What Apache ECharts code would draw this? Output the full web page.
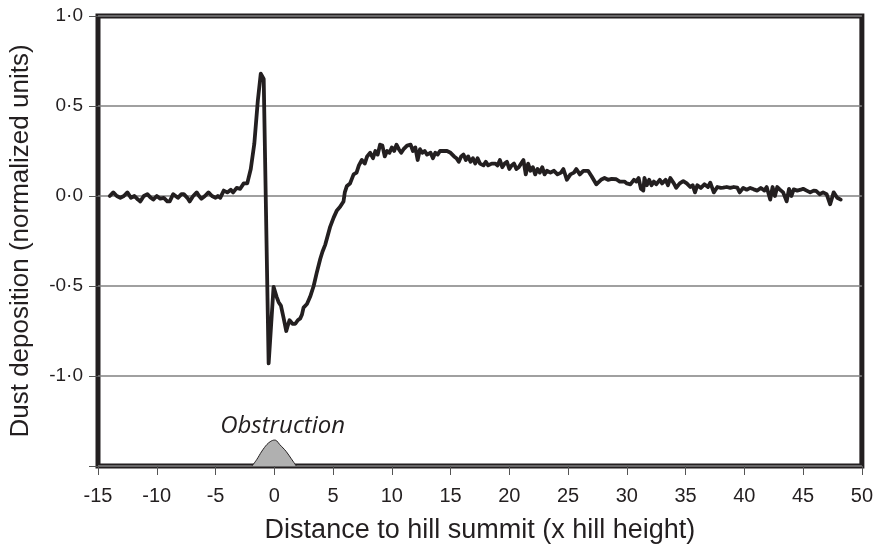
<!DOCTYPE html>
<html>
<head>
<meta charset="utf-8">
<style>html,body{margin:0;padding:0;background:#fff;}#c{width:876px;height:553px;}</style>
<script src="https://cdn.jsdelivr.net/npm/echarts@6/dist/echarts.min.js"></script>
</head>
<body>
<div id="c"></div>
<script>
// Distance to hill summit (x hill height)
const distance = [
-14.0,-13.7,-13.4,-13.1,-12.8,-12.5,-12.2,-11.9,-11.6,-11.4,-11.1,-10.8,-10.5,-10.3,-10.0,-9.7,-9.4,-9.1,-8.9,-8.6,
-8.4,-8.2,-7.9,-7.7,-7.4,-7.2,-6.9,-6.6,-6.4,-6.2,-5.9,-5.6,-5.3,-5.0,-4.8,-4.6,-4.3,-4.0,-3.7,-3.5,
-3.2,-2.9,-2.6,-2.3,-2.0,-1.7,-1.4,-1.15,-0.9,-0.48,-0.06,0.2,0.37,0.57,0.8,1.02,1.15,1.3,1.55,1.79,
2.0,2.21,2.35,2.49,2.78,3.05,3.35,3.6,3.91,4.1,4.34,4.55,4.76,5.05,5.33,5.6,5.89,6.0,6.18,6.45,
6.75,7.0,7.2,7.45,7.7,7.9,8.16,8.4,8.6,8.8,9.0,9.2,9.4,9.6,9.8,10.0,10.2,10.4,10.6,10.8,
11.0,11.3,11.6,11.8,12.0,12.2,12.4,12.6,12.8,13.0,13.3,13.5,13.7,13.9,14.1,14.4,14.7,15.0,15.3,15.5,
15.7,15.9,16.1,16.3,16.5,16.7,16.9,17.1,17.3,17.5,17.8,18.0,18.2,18.5,18.8,19.0,19.2,19.4,19.6,19.8,
20.0,20.2,20.4,20.6,20.8,21.0,21.2,21.4,21.6,21.8,22.0,22.2,22.4,22.6,22.8,23.0,23.2,23.5,23.8,24.1,
24.4,24.6,24.9,25.2,25.5,25.7,26.0,26.3,26.7,27.0,27.4,27.8,28.1,28.4,28.7,29.1,29.4,29.8,30.0,30.3,
30.6,30.8,31.0,31.2,31.4,31.5,31.7,31.9,32.1,32.3,32.5,32.8,33.0,33.3,33.5,33.7,34.0,34.2,34.5,34.8,
35.1,35.4,35.6,35.8,36.0,36.3,36.6,36.9,37.1,37.4,37.7,38.0,38.2,38.5,38.8,39.1,39.4,39.6,39.9,40.2,
40.5,40.8,41.1,41.4,41.7,41.9,42.2,42.4,42.6,42.8,43.0,43.3,43.6,43.8,44.0,44.2,44.5,44.8,45.0,45.3,
45.6,45.9,46.1,46.4,46.7,47.0,47.3,47.6,47.9,48.2
];
// Dust deposition (normalized units)
const deposition = [
0.00,0.02,0.00,-0.01,0.00,0.02,-0.01,0.00,-0.02,-0.03,0.00,0.01,-0.01,-0.02,0.00,-0.015,-0.01,-0.03,-0.03,0.01,
0.00,-0.01,0.01,0.01,-0.01,-0.03,0.00,0.02,0.00,-0.015,0.00,0.02,0.00,-0.01,0.00,-0.01,0.03,0.02,0.035,0.02,
0.045,0.04,0.07,0.07,0.15,0.29,0.53,0.68,0.65,-0.93,-0.505,-0.56,-0.59,-0.61,-0.68,-0.75,-0.72,-0.69,-0.71,-0.71,
-0.69,-0.68,-0.66,-0.62,-0.60,-0.56,-0.50,-0.43,-0.35,-0.31,-0.27,-0.22,-0.17,-0.12,-0.08,-0.06,-0.03,0.02,0.056,0.07,
0.12,0.13,0.17,0.20,0.18,0.22,0.24,0.21,0.25,0.23,0.285,0.28,0.22,0.25,0.24,0.27,0.25,0.285,0.26,0.24,
0.26,0.28,0.285,0.25,0.27,0.20,0.26,0.24,0.25,0.23,0.24,0.21,0.24,0.23,0.25,0.25,0.25,0.24,0.22,0.21,
0.19,0.22,0.23,0.20,0.22,0.19,0.21,0.18,0.21,0.18,0.17,0.19,0.17,0.18,0.18,0.17,0.20,0.16,0.18,0.19,
0.15,0.17,0.18,0.15,0.16,0.18,0.20,0.12,0.18,0.14,0.16,0.12,0.15,0.13,0.16,0.12,0.14,0.13,0.14,0.12,
0.13,0.15,0.09,0.12,0.13,0.15,0.12,0.14,0.14,0.11,0.065,0.09,0.10,0.09,0.095,0.093,0.08,0.08,0.07,0.065,
0.09,0.08,0.10,0.04,0.03,0.10,0.06,0.09,0.06,0.08,0.065,0.09,0.07,0.09,0.06,0.10,0.07,0.046,0.07,0.083,
0.07,0.05,0.06,0.02,0.06,0.045,0.065,0.05,0.074,0.02,0.05,0.045,0.046,0.05,0.045,0.05,0.046,0.02,0.045,0.035,
0.045,0.037,0.03,0.045,0.03,0.05,-0.02,0.05,0.0,0.05,0.037,0.02,-0.03,0.04,0.00,0.037,0.03,0.035,0.04,0.03,
0.02,0.03,0.028,0.01,0.02,0.01,-0.046,0.02,-0.01,-0.02
];
// Obstruction (hill) profile
const hillX = [-1.9,-1.5,-1.05,-0.62,-0.35,-0.15,0.03,0.2,0.45,0.75,1.02,1.45,1.87];
const hillY = [-1.5,-1.465,-1.417,-1.38,-1.365,-1.358,-1.356,-1.36,-1.38,-1.4,-1.42,-1.46,-1.5];
const xTicks = {min:-15, max:50, interval:5};
const yTicks = {min:-1.5, max:1.0, interval:0.5};
const xName = 'Distance to hill summit (x hill height)';
const yName = 'Dust deposition (normalized units)';
const hillLabel = 'Obstruction';

const ink = '#231f20';
const font = 'Liberation Sans, Arial, sans-serif';
const chart = echarts.init(document.getElementById('c'), null, {renderer:'canvas'});
chart.setOption({
  animation:false,
  backgroundColor:'#fff',
  grid:{left:98, right:14, top:16, bottom:87, show:true, borderColor:ink, borderWidth:5, backgroundColor:'transparent'},
  xAxis:{
    type:'value', min:xTicks.min, max:xTicks.max, interval:xTicks.interval,
    name:xName, nameLocation:'middle', nameGap:51,
    nameTextStyle:{fontFamily:font, fontSize:27, color:ink},
    axisLine:{show:false, onZero:false},
    axisTick:{show:true, length:9, lineStyle:{color:'#555', width:1}},
    axisLabel:{fontFamily:font, fontSize:20, color:ink, margin:20},
    splitLine:{show:false}
  },
  yAxis:{
    type:'value', min:yTicks.min, max:yTicks.max, interval:yTicks.interval,
    name:yName, nameLocation:'middle', nameGap:64,
    nameTextStyle:{fontFamily:font, fontSize:26, color:ink},
    axisLine:{show:false, onZero:false},
    axisTick:{show:true, length:9, lineStyle:{color:'#555', width:1}},
    axisLabel:{fontFamily:font, fontSize:19, color:ink, margin:15,
      formatter:function(v){ if (Math.abs(v - yTicks.min) < 1e-9) return ''; return v.toFixed(1).replace('.', '·'); }},
    splitLine:{show:true, lineStyle:{color:'#808080', width:1.5}}
  },
  series:[
    {
      type:'line', data:hillX.map((x,i)=>[x, hillY[i]]), smooth:0.4, symbol:'none',
      lineStyle:{color:ink, width:1}, areaStyle:{color:'#b0b0b0', opacity:1, origin:'start'},
      z:3,
      markPoint:{
        symbol:'circle', symbolSize:0,
        data:[{type:'max', valueDim:'y'}],
        label:{show:true, position:'top', distance:2, offset:[8,0], formatter:hillLabel,
          fontFamily:'Open Sans, Noto Sans, sans-serif', fontStyle:'italic', fontSize:24, color:ink}
      }
    },
    {
      type:'line', data:distance.map((x,i)=>[x, deposition[i]]), symbol:'none', smooth:false,
      lineStyle:{color:ink, width:3.8, join:'round', cap:'round'}, z:4
    }
  ]
});
</script>
</body>
</html>
